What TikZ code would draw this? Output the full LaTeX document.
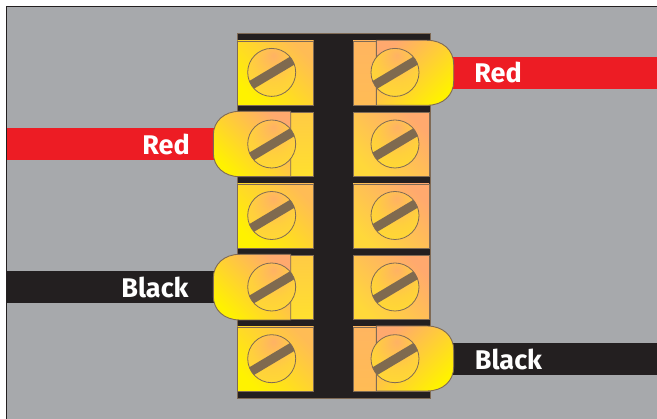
\documentclass[tikz,border=0pt]{standalone}
\usepackage{fontspec}
\setmainfont{Fira Sans}
\definecolor{panelgray}{HTML}{A7A9AC}
\definecolor{framedark}{HTML}{231F20}
\definecolor{wirered}{HTML}{ED1C24}
\definecolor{edgebrown}{HTML}{7F6A55}
\definecolor{slotbrown}{HTML}{7F6A4F}
\definecolor{yellowA}{HTML}{FFF200}
\definecolor{yellowB}{HTML}{FFD83A}
\definecolor{yellowC}{HTML}{FFE02E}
\definecolor{orangeA}{HTML}{FFBC55}
\definecolor{orangeB}{HTML}{FFA96E}
\definecolor{orangeC}{HTML}{FFB560}
\definecolor{orangeD}{HTML}{FFCB45}
\definecolor{screwA}{HTML}{FFB264}
\definecolor{screwB}{HTML}{FFD03C}
\definecolor{screwC}{HTML}{FFE42A}
\pgfdeclareradialshading{screwface}{\pgfpoint{2bp}{18bp}}{color(0bp)=(screwA); color(24bp)=(screwB); color(56bp)=(screwC); color(100bp)=(screwC)}
\tikzset{
    x=1pt, y=-1pt,
    cellbox/.style={rectangle, draw=edgebrown, line width=0.7pt, minimum width=76pt, minimum height=64pt, inner sep=0pt, outer sep=0pt},
    coolcell/.style={cellbox, bottom color=yellowA, top color=orangeA, shading angle=-45},
    midcell/.style={cellbox, bottom color=yellowB, top color=orangeB, shading angle=-45},
    warmcell/.style={cellbox, bottom color=orangeA, top color=orangeC},
    sidecell/.style={cellbox, bottom color=yellowC, top color=orangeD},
    screw/.style={circle, draw=edgebrown, line width=0.8pt, minimum size=48pt, inner sep=0pt, shade, shading=screwface,
        path picture={\draw[slotbrown, line width=9pt] ([shift={(-26,16)}]path picture bounding box.center) -- ([shift={(26,-15)}]path picture bounding box.center);}},
    lugleft/.style={draw=edgebrown, line width=0.9pt, bottom color=yellowA, top color=orangeB, shading angle=-45},
    lugright/.style={draw=edgebrown, line width=0.9pt, bottom color=yellowA, top color=orangeB, shading angle=45},
    wire/.style={line width=32pt},
    wirelabel/.style={text=white, font=\fontsize{27}{27}\selectfont\bfseries, inner sep=0pt},
}
\begin{document}
\begin{tikzpicture}
    \useasboundingbox (0,0) rectangle (657,419);
    % panel and terminal block
    \fill[panelgray] (6,7) rectangle (657,419);
    \draw[framedark, line width=1pt] (6,419) -- (6,7) -- (657,7);
    \node[rectangle, fill=framedark, draw=edgebrown, line width=0.4pt, minimum width=193pt, minimum height=365pt, inner sep=0pt] (block) at (333.5,215.5) {};
    % contact plates
    \foreach \row/\ypos/\lstyle/\rstyle in {1/73/coolcell/warmcell, 2/144.5/sidecell/midcell, 3/216/coolcell/midcell, 4/287.5/sidecell/midcell, 5/359/coolcell/warmcell} {
        \node[\lstyle] (cellL\row) at (275.7,\ypos) {};
        \node[\rstyle] (cellR\row) at (391.2,\ypos) {};
    }
    % wires
    \coordinate (edgeRedL) at (7,144);
    \coordinate (edgeBlackL) at (7,287);
    \coordinate (edgeRedR) at (657,73);
    \coordinate (edgeBlackR) at (657,359);
    \coordinate (tipRedL) at (220,144);
    \coordinate (tipBlackL) at (220,287);
    \coordinate (tipRedR) at (447,73);
    \coordinate (tipBlackR) at (447,359);
    \draw[wire, wirered] (edgeRedL) -- (tipRedL);
    \draw[wire, framedark] (edgeBlackL) -- (tipBlackL);
    \draw[wire, wirered] (tipRedR) -- (edgeRedR);
    \draw[wire, framedark] (tipBlackR) -- (edgeBlackR);
    % crimped lugs
    \foreach \ytop/\ybot in {111.3/176.7, 254.3/320} {
        \shade[lugleft] (290.7,\ytop) -- (240,\ytop) .. controls (224,\ytop) and (213.3,\ytop+10) .. (213.3,\ytop+24)
            -- (213.3,\ybot-24) .. controls (213.3,\ybot-10) and (224,\ybot) .. (240,\ybot) -- (290.7,\ybot) -- cycle;
    }
    \foreach \ytop/\ybot in {40.3/105.3, 326/391} {
        \shade[lugright] (376.4,\ytop) -- (427,\ytop) .. controls (443,\ytop) and (453.7,\ytop+10) .. (453.7,\ytop+24)
            -- (453.7,\ybot-24) .. controls (453.7,\ybot-10) and (443,\ybot) .. (427,\ybot) -- (376.4,\ybot) -- cycle;
    }
    % screws
    \foreach \row/\ypos in {1/72.4, 2/144, 3/215.5, 4/287, 5/358.7} {
        \node[screw] (screwL\row) at (271.7,\ypos) {};
        \node[screw] (screwR\row) at (395,\ypos) {};
    }
    % labels
    \node[wirelabel] (labelRedL) at (166,144.5) {Red};
    \node[wirelabel] (labelBlackL) at (155,287.5) {Black};
    \node[wirelabel] (labelRedR) at (498,72.5) {Red};
    \node[wirelabel] (labelBlackR) at (508.5,359.5) {Black};
\end{tikzpicture}
\end{document}
